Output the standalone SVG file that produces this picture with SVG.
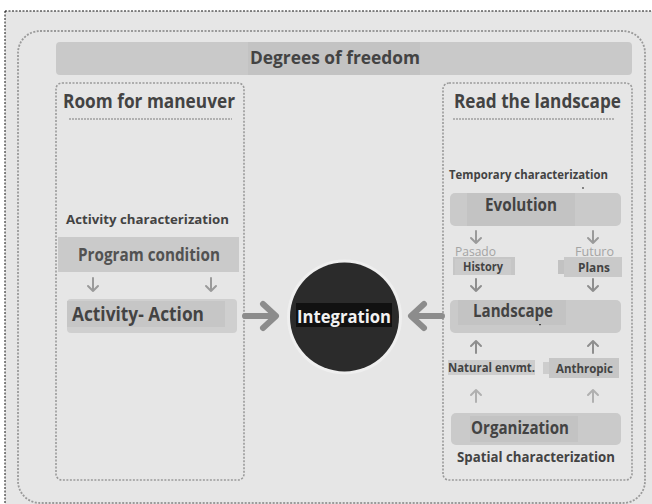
<svg xmlns="http://www.w3.org/2000/svg" width="652" height="504" viewBox="0 0 652 504">
<style>
.t{font-family:"Open Sans","Liberation Sans",sans-serif;font-weight:bold;fill:#434343}
.box{fill:#cacaca}
.inner{fill:#c3c3c3}
.panel{fill:none;stroke:#9a9a9a;stroke-width:1.6;stroke-dasharray:2 1.5}
.sa{fill:none;stroke:#9a9a9a;stroke-width:2;stroke-linecap:round;stroke-linejoin:round}
.ba{fill:none;stroke:#8c8c8c;stroke-width:6;stroke-linecap:round;stroke-linejoin:round}
.ul{stroke:#a0a0a0;stroke-width:1.5;stroke-dasharray:2 1}
</style>
<rect width="652" height="504" fill="#ffffff"/>
<rect x="5" y="11" width="660" height="510" fill="#e6e6e6" stroke="#111" stroke-width="1" stroke-dasharray="2 1.5"/>
<rect x="18" y="31" width="627" height="472" rx="22" fill="none" stroke="#9a9a9a" stroke-width="1.8" stroke-dasharray="2 1.5"/>

<g id="title">
<rect x="56" y="42" width="576" height="33" rx="4" fill="#c9c9c9"/>
<rect x="248" y="42" width="172" height="33" fill="#c3c3c3"/>
<text class="t" x="250" y="64" font-size="18.5" textLength="170" lengthAdjust="spacingAndGlyphs">Degrees of freedom</text>
</g>

<g id="room">
<rect x="56" y="83" width="188" height="397" rx="6" class="panel"/>
<text class="t" x="63" y="108" font-size="19" textLength="172" lengthAdjust="spacingAndGlyphs">Room for maneuver</text>
<line x1="69" y1="119" x2="232" y2="119" class="ul"/>
</g>

<g id="activity-char">
<text class="t" x="66" y="224" font-size="12.5" textLength="163" lengthAdjust="spacingAndGlyphs">Activity characterization</text>
</g>

<g id="program">
<rect x="58" y="237" width="181" height="35" class="box"/>
<text class="t" x="78" y="261" font-size="17" fill="#505050" style="fill:#525252" textLength="142" lengthAdjust="spacingAndGlyphs">Program condition</text>
</g>

<g id="action">
<rect x="67" y="299" width="170" height="34" rx="4" fill="#cfcfcf"/>
<rect x="67" y="301" width="158" height="26" fill="#c6c6c6"/>
<text class="t" x="72" y="321" font-size="19" textLength="132" lengthAdjust="spacingAndGlyphs">Activity- Action</text>
</g>

<g id="integration">
<circle cx="344.5" cy="317" r="57.5" fill="#efefef"/>
<circle cx="344.5" cy="317" r="54.5" fill="#2b2b2b"/>
<rect x="296" y="303" width="96" height="24" fill="#111"/>
<text class="t" x="297" y="323" font-size="18" style="fill:#f2f2f2" textLength="94" lengthAdjust="spacingAndGlyphs">Integration</text>
</g>

<g id="landscape-panel">
<rect x="443" y="83" width="189" height="397" rx="6" class="panel"/>
<text class="t" x="454" y="108" font-size="19" textLength="167" lengthAdjust="spacingAndGlyphs">Read the landscape</text>
<line x1="453" y1="119" x2="615" y2="119" class="ul"/>
</g>

<g id="temporary">
<text class="t" x="449" y="179" font-size="12.5" textLength="159" lengthAdjust="spacingAndGlyphs">Temporary characterization</text>
<circle cx="583" cy="188" r="0.9" fill="#555"/>
</g>

<g id="evolution">
<rect x="450" y="193" width="171" height="33" rx="5" class="box"/>
<rect x="467" y="193" width="108" height="33" class="inner"/>
<text class="t" x="485" y="211" font-size="17" textLength="72" lengthAdjust="spacingAndGlyphs">Evolution</text>
</g>

<g id="history">
<text x="455" y="256" font-family="Open Sans, Liberation Sans, sans-serif" font-size="12" fill="#a4a4a4" textLength="41" lengthAdjust="spacingAndGlyphs">Pasado</text>
<rect x="453" y="257" width="62" height="18" fill="#c6c6c6"/>
<rect x="455" y="259" width="56" height="16" fill="#cbcbcb"/>
<text class="t" x="463" y="271" font-size="12.5" textLength="40" lengthAdjust="spacingAndGlyphs">History</text>
</g>

<g id="plans">
<text x="575" y="256" font-family="Open Sans, Liberation Sans, sans-serif" font-size="12" fill="#a4a4a4" textLength="39" lengthAdjust="spacingAndGlyphs">Futuro</text>
<rect x="558" y="260" width="8" height="14" fill="#c2c2c2"/>
<rect x="564" y="257" width="58" height="20" fill="#c9c9c9"/>
<text class="t" x="578" y="272" font-size="12.5" textLength="32" lengthAdjust="spacingAndGlyphs">Plans</text>
</g>

<g id="landscape">
<rect x="450" y="300" width="171" height="33" rx="5" class="box"/>
<rect x="458" y="300" width="108" height="25" class="inner"/>
<text class="t" x="473" y="317" font-size="17" textLength="80" lengthAdjust="spacingAndGlyphs">Landscape</text>
<rect x="539" y="324" width="2" height="1.2" fill="#444"/>
</g>

<g id="natural">
<rect x="448" y="360" width="87" height="15" fill="#cdcdcd"/>
<text class="t" x="448" y="372" font-size="12" textLength="87" lengthAdjust="spacingAndGlyphs">Natural envmt.</text>
</g>

<g id="anthropic">
<rect x="543" y="362" width="8" height="12" fill="#cdcdcd"/>
<rect x="549" y="358" width="70" height="20" fill="#c6c6c6"/>
<text class="t" x="556" y="373" font-size="12" textLength="57" lengthAdjust="spacingAndGlyphs">Anthropic</text>
</g>

<g id="organization">
<rect x="451" y="413" width="170" height="32" rx="5" class="box"/>
<rect x="470" y="416" width="108" height="26" class="inner"/>
<text class="t" x="471" y="434" font-size="17" textLength="98" lengthAdjust="spacingAndGlyphs">Organization</text>
</g>

<g id="spatial">
<text class="t" x="457" y="462" font-size="14" textLength="158" lengthAdjust="spacingAndGlyphs">Spatial characterization</text>
</g>

<g id="connectors">
<path class="sa" d="M93 278 V291 M88 286 L93 291 L98 286"/>
<path class="sa" d="M211 278 V291 M206 286 L211 291 L216 286"/>
<path class="ba" d="M245 316 H275 M263 304 L276 316 L263 328"/>
<path class="ba" d="M442 316 H412 M424 304 L411 316 L424 328"/>
<path class="sa" d="M476 231 V243 M471 238 L476 243 L481 238"/>
<path class="sa" d="M593 231 V243 M588 238 L593 243 L598 238"/>
<path class="sa" d="M476 279 V291 M471 286 L476 291 L481 286" style="stroke:#8e8e8e"/>
<path class="sa" d="M593 279 V291 M588 286 L593 291 L598 286" style="stroke:#8e8e8e"/>
<path class="sa" d="M476 353 V341 M471 346 L476 341 L481 346" style="stroke:#8e8e8e"/>
<path class="sa" d="M593 353 V341 M588 346 L593 341 L598 346" style="stroke:#8e8e8e"/>
<path class="sa" d="M476 402 V390 M471 395 L476 390 L481 395" style="stroke:#b0b0b0"/>
<path class="sa" d="M593 402 V390 M588 395 L593 390 L598 395" style="stroke:#b0b0b0"/>
</g>
</svg>
